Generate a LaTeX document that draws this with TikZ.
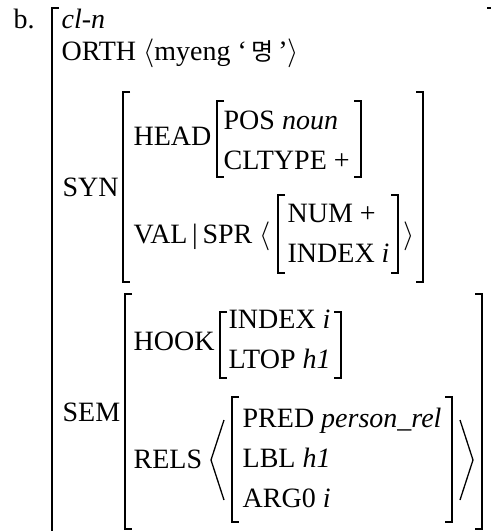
\documentclass[tikz,border=0pt]{standalone}
\usepackage{fontspec}
\usepackage{tikz}
\setmainfont{Liberation Serif}
\newfontfamily\kofont{Noto Sans CJK KR}
\usetikzlibrary{positioning}
% square brackets of the matrix
\newcommand\lbrak[3]{\draw ({#1+7},#2) -- (#1,#2) -- (#1,#3) -- ({#1+7},#3);}
\newcommand\rbrak[3]{\draw ({#1-7},#2) -- (#1,#2) -- (#1,#3) -- ({#1-7},#3);}
\begin{document}
\begin{tikzpicture}[x=0.5pt,y=-0.5pt,line width=0.65pt,
                    feat/.style={inner sep=0pt,font=\fontsize{14}{17}\selectfont,anchor=base west},
                    row/.style={below=20pt of #1.base west,anchor=base west}]
  \useasboundingbox (0,0) rectangle (491,531);
  \clip (0,0) rectangle (491,531);

  \node[feat] (b) at (13,28) {b.};
  \node[feat] (cln) at (61,28) {\textit{cl-n}};
  \node[feat] (orth) at (61,60) {ORTH $\langle$myeng ‘\,{\kofont\fontsize{12}{14}\selectfont 명}\,’$\rangle$};

  % SYN
  \node[feat] (syn) at (62,196) {SYN};
  \node[feat] (head) at (133,145) {HEAD};
  \node[feat] (pos) at (223,129) {POS \textit{noun}};
  \node[feat,row=pos] (cltype) {CLTYPE +};
  \node[feat] (val) at (133,243) {VAL\,|\,SPR $\langle$};
  \node[feat] (num) at (287,222) {NUM +};
  \node[feat,row=num] (index) {INDEX \textit{i}};
  \node[feat] (valend) at (403,243) {$\rangle$};

  % SEM
  \node[feat] (sem) at (62,421) {SEM};
  \node[feat] (hook) at (133,350) {HOOK};
  \node[feat] (hindex) at (228,328) {INDEX \textit{i}};
  \node[feat,row=hindex] (ltop) {LTOP \textit{h1}};
  \node[feat] (rels) at (133,468) {RELS};
  \node[feat] (pred) at (242,427) {PRED \textit{person\_rel}};
  \node[feat,row=pred] (lbl) {LBL \textit{h1}};
  \node[feat,row=lbl] (arg) {ARG0 \textit{i}};

  \lbrak{52}{8}{540}
  \rbrak{494}{8}{540}
  \lbrak{123}{92}{282}
  \rbrak{423}{92}{282}
  \lbrak{217}{101}{177}
  \rbrak{361}{101}{177}
  \lbrak{278}{195}{273}
  \rbrak{398}{195}{273}
  \lbrak{125}{294}{529}
  \rbrak{482}{294}{529}
  \lbrak{220}{312}{378}
  \rbrak{341}{312}{378}
  \lbrak{232}{397}{522}
  \rbrak{452}{397}{522}
  \draw (224,420) -- (211,460) -- (224,500);
  \draw (460,420) -- (473,460) -- (460,500);
\end{tikzpicture}
\end{document}
